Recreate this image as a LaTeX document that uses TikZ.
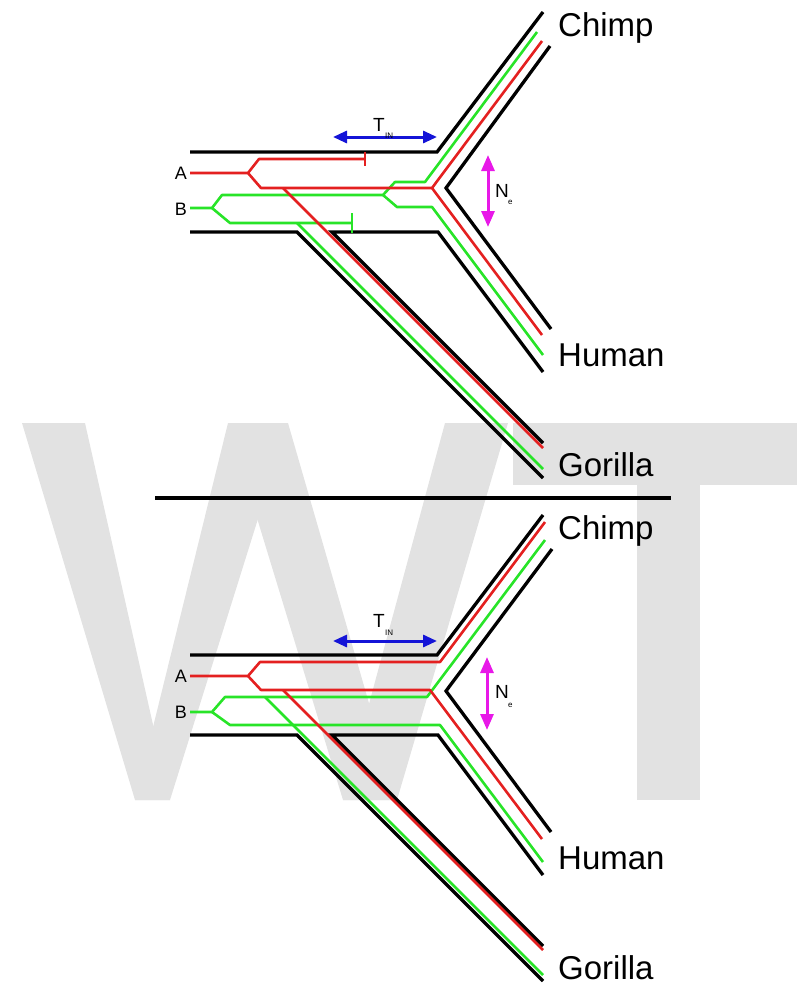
\documentclass[tikz,border=0pt]{standalone}
\usepackage{fontspec}
\setmainfont{Liberation Sans}
\usetikzlibrary{arrows.meta}
\definecolor{rd}{RGB}{228,32,32}
\definecolor{gn}{RGB}{40,228,40}
\definecolor{bl}{RGB}{20,20,215}
\definecolor{mg}{RGB}{232,24,232}
\definecolor{wm}{RGB}{226,226,226}
\tikzset{
 blk/.style={line width=3.3pt, draw=black},
 rline/.style={line width=2.6pt, draw=rd, line join=round},
 gline/.style={line width=2.6pt, draw=gn, line join=round},
 wmark/.style={fill=wm, draw=none},
 lbl/.style={font=\fontsize{33}{36}\selectfont, inner sep=0pt, anchor=base west},
 ab/.style={font=\fontsize{18}{20}\selectfont, inner sep=0pt, anchor=base east},
 sym/.style={font=\fontsize{19}{20}\selectfont, inner sep=0pt, anchor=base west},
 subs/.style={font=\fontsize{8}{9}\selectfont, inner sep=0pt, anchor=base west},
 tarrow/.style={line width=3pt, draw=bl, {Triangle[length=14pt,width=12pt]}-{Triangle[length=14pt,width=12pt]}},
 narrow/.style={line width=3pt, draw=mg, {Triangle[length=16pt,width=13pt]}-{Triangle[length=16pt,width=13pt]}}
}
\begin{document}
\begin{tikzpicture}[x=1pt,y=-1pt]
\useasboundingbox (0,0) rectangle (797,985);
% watermark
\fill[wmark] (22,423) -- (85,423) -- (170,800) -- (135,800) -- cycle;
\fill[wmark] (228,423) -- (288,423) -- (170,800) -- (135,800) -- cycle;
\fill[wmark] (228,423) -- (288,423) -- (397,800) -- (343,800) -- cycle;
\fill[wmark] (445,423) -- (508,423) -- (397,800) -- (343,800) -- cycle;
\fill[wmark] (513,423) rectangle (797,485);
\fill[wmark] (637,423) rectangle (700,800);

% ---------------- top panel ----------------
\draw[blk] (190,152) -- (437,152) -- (543,12);
\draw[blk] (550,46) -- (446,188) -- (551,329);
\draw[blk] (543,443) -- (332,232) -- (438,232) -- (543,372);
\draw[blk] (190,232) -- (297,232) -- (543,478);

\draw[gline] (190,208) -- (212,208) -- (222,195) -- (383,195) -- (395,182) -- (425,182) -- (537,32);
\draw[gline] (383,195) -- (397,207) -- (432,207) -- (543,355);
\draw[gline] (212,208) -- (230,223) -- (352,223);
\draw[gline] (352,213) -- (352,233);
\draw[gline] (297,223) -- (543,469);

\draw[rline] (190,173) -- (248,173) -- (259,159) -- (365,159);
\draw[rline] (365,152) -- (365,166);
\draw[rline] (248,173) -- (261,188) -- (432,188) -- (542,41);
\draw[rline] (432,188) -- (542,335);
\draw[rline] (283,188) -- (543,448);

\draw[tarrow] (333,137) -- (437,137);
\draw[narrow] (488,155) -- (488,227);

\node[ab] (A1) at (187,179) {A};
\node[ab] (B1) at (187,215) {B};
\node[sym] (T1) at (373,131) {T};
\node[subs] (T1s) at (385,138) {IN};
\node[sym] (N1) at (495,197) {N};
\node[subs] (N1s) at (508,204) {e};
\node[lbl] (C1) at (558,36) {Chimp};
\node[lbl] (H1) at (558,366) {Human};
\node[lbl] (G1) at (558,476) {Gorilla};

% divider
\draw[line width=3.3pt] (155,498) -- (671,498);

% ---------------- bottom panel ----------------
\draw[blk] (190,655) -- (437,655) -- (543,515);
\draw[blk] (552,549) -- (446,691) -- (551,832);
\draw[blk] (543,946) -- (332,735) -- (438,735) -- (543,875);
\draw[blk] (190,735) -- (297,735) -- (543,981);

\draw[gline] (190,712) -- (212,712) -- (225,697) -- (427,697) -- (545,540);
\draw[gline] (212,712) -- (230,725) -- (440,725) -- (543,862);
\draw[gline] (265,697) -- (543,975);

\draw[rline] (190,676) -- (248,676) -- (260,662) -- (440,662) -- (545,522);
\draw[rline] (248,676) -- (261,690) -- (430,690) -- (542,839);
\draw[rline] (283,690) -- (543,950);

\draw[tarrow] (333,641) -- (437,641);
\draw[narrow] (487,657) -- (487,730);

\node[ab] (A2) at (187,682) {A};
\node[ab] (B2) at (187,718) {B};
\node[sym] (T2) at (373,627) {T};
\node[subs] (T2s) at (385,635) {IN};
\node[sym] (N2) at (495,698) {N};
\node[subs] (N2s) at (508,707) {e};
\node[lbl] (C2) at (558,539) {Chimp};
\node[lbl] (H2) at (558,869) {Human};
\node[lbl] (G2) at (558,979) {Gorilla};
\end{tikzpicture}
\end{document}
